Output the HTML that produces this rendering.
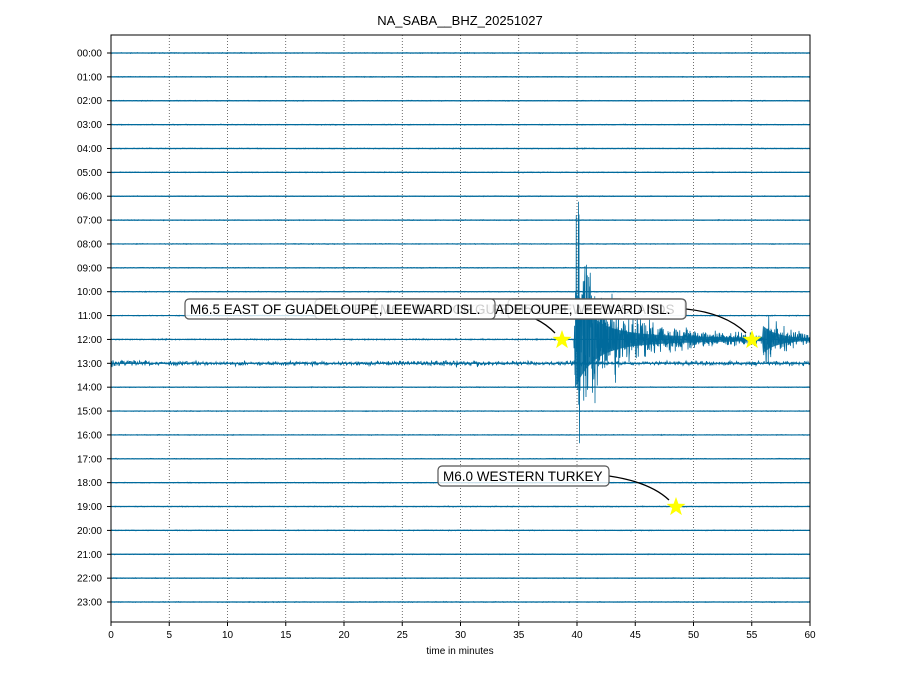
<!DOCTYPE html>
<html><head><meta charset="utf-8"><style>
html,body{margin:0;padding:0;background:#fff;}
svg{display:block;font-family:"Liberation Sans","DejaVu Sans",sans-serif;}
</style></head><body>
<svg id="s" width="919" height="690" xmlns="http://www.w3.org/2000/svg">
<rect width="919" height="690" fill="#fff"/>
<text x="460" y="25" font-size="13" text-anchor="middle">NA_SABA__BHZ_20251027</text>
<g id="grid"></g>
<g id="traces"></g>
<rect x="111" y="35" width="699" height="587" fill="none" stroke="#000" stroke-width="1"/>
<g id="ticks" font-size="10"></g>
<text x="460" y="654" font-size="10" text-anchor="middle">time in minutes</text>
<g id="ann"></g>
</svg>
<script>
const NS="http://www.w3.org/2000/svg";
function el(p,t,a,txt){const e=document.createElementNS(NS,t);for(const k in a)e.setAttribute(k,a[k]);if(txt!==undefined)e.textContent=txt;p.appendChild(e);return e;}
const X0=111,X1=810,W=X1-X0;
const Y=i=>53+i*23.87;
const grid=document.getElementById('grid'),ticks=document.getElementById('ticks'),tr=document.getElementById('traces'),ann=document.getElementById('ann');
for(let m=0;m<=60;m+=5){const x=X0+W*m/60;
 if(m>0&&m<60)el(grid,'line',{x1:x,x2:x,y1:35,y2:622,stroke:'#333','stroke-width':0.7,'stroke-dasharray':'1,2'});
 el(ticks,'line',{x1:x,x2:x,y1:622,y2:626,stroke:'#000'});
 el(ticks,'text',{x:x,y:638,'text-anchor':'middle'},String(m));}
for(let i=0;i<24;i++){const y=Y(i);
 el(ticks,'line',{x1:107,x2:111,y1:y,y2:y,stroke:'#000'});
 el(ticks,'text',{x:102,y:y+3.5,'text-anchor':'end'},(i<10?'0':'')+i+':00');}
let seed=12345;function rnd(){seed=(seed*1103515245+12345)&0x7fffffff;return seed/0x7fffffff;}
function g(){return (rnd()+rnd()+rnd()-1.5)*1.4;}
// envelope fill for main event
{const y0=Y(12);let up='',dn=[];
 for(let x=575;x<=810;x+=1){const t=x-575;const e=40*Math.exp(-t/18)+9*Math.exp(-t/110)+(x>=763?12*Math.exp(-(x-763)/14):0);
  up+=(up?'L':'M')+x+' '+(y0-e).toFixed(1);dn.push(x+' '+(y0+e).toFixed(1));}
 el(tr,'path',{d:up+'L'+dn.reverse().join('L')+'Z',fill:'#006a9c','fill-opacity':0.85});}
for(let i=0;i<24;i++){const y0=Y(i);let d='';
 const step=(i==12)?0.25:0.5;
 for(let x=X0;x<=X1;x+=step){let a=0.3;
  if(i==13){a=1.4;if(x>430&&x<490)a=2.2;if(x<150)a=2.0;}
  if(i==12){
   if(x>=574){const t=x-574;a=1+75*Math.exp(-t/22)+16*Math.exp(-t/110);if(t<3)a*=t/3+0.3;}
   if(x>=763){const t=x-763;a+=22*Math.exp(-t/14)*(t<3?t/3:1);}
  }
  let v=g()*a;if(i==12&&x>=574&&x<640&&rnd()<0.03)v*=1.7;
  d+=(d?'L':'M')+x.toFixed(2)+' '+(y0+v).toFixed(1);}
 el(tr,'path',{d:d,fill:'none',stroke:'#006a9c','stroke-width':0.8});
 el(tr,'line',{x1:X0,x2:X1,y1:y0,y2:y0,stroke:'#006a9c','stroke-width':1.2});
}
el(ann,'path',{d:'M495 309 Q535 312 555 333',fill:'none',stroke:'#000','stroke-width':1.3});
el(ann,'path',{d:'M686 309 Q725 313 746 333',fill:'none',stroke:'#000','stroke-width':1.3});
el(ann,'path',{d:'M609 476 Q650 482 669 500',fill:'none',stroke:'#000','stroke-width':1.3});
function box(x,w,y,txt,op){el(ann,'rect',{x:x,y:y,width:w,height:20,rx:4,fill:'#fff','fill-opacity':op,stroke:'#555','stroke-width':1.2});
 el(ann,'text',{x:x+5,y:y+15,'font-size':13.5,fill:'#000'},txt);}
box(315,310,299,'M6.5 EAST OF GUADELOUPE, LEEWARD ISL.',0.8);
box(508,177,299,'M5.2 LEEWARD ISLANDS',0.8);
box(375,311,299,'M6.5 EAST OF GUADELOUPE, LEEWARD ISL.',0.8);
box(185,310,299,'M6.5 EAST OF GUADELOUPE, LEEWARD ISL.',0.8);
box(438,171,466,'M6.0 WESTERN TURKEY',0.8);
function star(cx,cy,r){let p='';for(let k=0;k<10;k++){const rr=k%2?r*0.4:r;const a=-Math.PI/2+k*Math.PI/5;p+=(cx+rr*Math.cos(a)).toFixed(1)+','+(cy+rr*Math.sin(a)).toFixed(1)+' ';}
 el(ann,'polygon',{points:p,fill:'#ffff00'});}
star(562,340,10);star(752,340,10);star(676,507,10);
</script>
</body></html>
